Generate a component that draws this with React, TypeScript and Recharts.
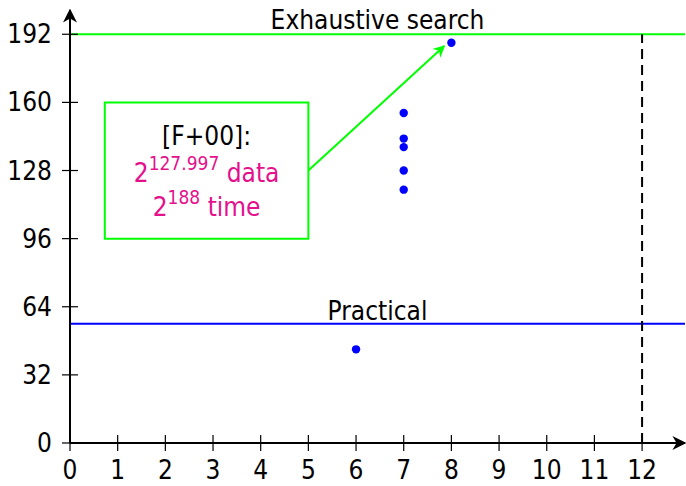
import React from "react";
import {
  ScatterChart,
  Scatter,
  XAxis,
  YAxis,
  ReferenceLine,
  ReferenceArea,
} from "recharts";

const xTicks = [0, 1, 2, 3, 4, 5, 6, 7, 8, 9, 10, 11, 12];
const yTicks = [0, 32, 64, 96, 128, 160, 192];

const attackRounds = [6, 7, 7, 7, 7, 7, 8];
const attackLog2 = [44, 119, 128, 139, 143, 155, 188];

const exhaustiveLevel = 192;
const practicalLevel = 56;
const fullRounds = 12;

// annotation box (data units) and its arrow to the [F+00] attack
const noteBox = { x1: 0.73, x2: 5, y1: 96, y2: 160 };
const noteArrow = { from: [5, 128], to: [7.85, 186.5] };

const points = attackRounds.map((r, i) => ({ rounds: r, log2: attackLog2[i] }));

const FONT = '"Liberation Sans Narrow", "DejaVu Sans Condensed", sans-serif';
const GREEN = "#00ff00";
const BLUE = "#0000ff";
const MAGENTA = "#e4108c";

const XTick = ({ x, y, payload }: any) => (
  <g>
    <line x1={x} x2={x} y1={y - 8} y2={y + 8} stroke="#000" strokeWidth={1.2} />
    <text x={x} y={y + 36} textAnchor="middle" fontSize={26} fontFamily={FONT} fill="#000">
      {payload.value}
    </text>
  </g>
);

const YTick = ({ x, y, payload }: any) => (
  <g>
    <line x1={x - 8} x2={x + 8} y1={y} y2={y} stroke="#000" strokeWidth={1.2} />
    <text x={x - 18} y={y + 9} textAnchor="end" fontSize={26} fontFamily={FONT} fill="#000">
      {payload.value}
    </text>
  </g>
);

const NoteLabel = ({ viewBox }: any) => {
  const cx = viewBox.x + viewBox.width / 2;
  const top = viewBox.y;
  return (
    <g fontFamily={FONT} textAnchor="middle">
      <text x={cx} y={top + 43} fontSize={26} fill="#000">[F+00]:</text>
      <text x={cx} y={top + 80} fontSize={26} fill={MAGENTA}>
        2<tspan dy={-12} fontSize={19}>127.997</tspan>
        <tspan dy={12}> data</tspan>
      </text>
      <text x={cx} y={top + 114} fontSize={26} fill={MAGENTA}>
        2<tspan dy={-12} fontSize={19}>188</tspan>
        <tspan dy={12}> time</tspan>
      </text>
    </g>
  );
};

const Dot = ({ cx, cy }: any) => <circle cx={cx} cy={cy} r={4.2} fill={BLUE} />;

export default function App() {
  return (
    <div style={{ position: "absolute", left: 0, top: 0, width: 686, height: 486, background: "#fff" }}>
      <svg width={0} height={0} style={{ position: "absolute" }}>
        <defs>
          <marker id="axisArrow" viewBox="0 0 10 10" refX={9} refY={5} markerWidth={7} markerHeight={7}
            markerUnits="strokeWidth" orient="auto-start-reverse">
            <path d="M0,0 L10,5 L0,10 L3,5 Z" fill="#000" />
          </marker>
          <marker id="noteArrow" viewBox="0 0 10 10" refX={9} refY={5} markerWidth={6} markerHeight={6}
            markerUnits="strokeWidth" orient="auto">
            <path d="M0,0 L10,5 L0,10 L3,5 Z" fill={GREEN} />
          </marker>
        </defs>
      </svg>
      <ScatterChart width={686} height={486} margin={{ top: 10, right: 1, bottom: 0, left: 0 }}>
        <XAxis
          type="number"
          dataKey="rounds"
          domain={[0, 12.9]}
          ticks={xTicks}
          allowDataOverflow
          height={43}
          tickSize={0}
          tickMargin={0}
          tickLine={false}
          axisLine={{ stroke: "#000", strokeWidth: 2, markerEnd: "url(#axisArrow)" }}
          tick={<XTick />}
          interval={0}
        />
        <YAxis
          type="number"
          dataKey="log2"
          domain={[0, 203.4]}
          ticks={yTicks}
          allowDataOverflow
          width={70}
          tickSize={0}
          tickMargin={0}
          tickLine={false}
          axisLine={{ stroke: "#000", strokeWidth: 2, markerStart: "url(#axisArrow)" }}
          tick={<YTick />}
          interval={0}
        />
        <ReferenceLine
          y={exhaustiveLevel}
          stroke={GREEN}
          strokeWidth={2}
          label={{ value: "Exhaustive search", position: "top", fill: "#000", fontSize: 26, fontFamily: FONT, offset: 5 }}
        />
        <ReferenceLine
          y={practicalLevel}
          stroke={BLUE}
          strokeWidth={2}
          label={{ value: "Practical", position: "top", fill: "#000", fontSize: 26, fontFamily: FONT, offset: 4 }}
        />
        <ReferenceLine
          segment={[{ x: fullRounds, y: 0 }, { x: fullRounds, y: exhaustiveLevel }]}
          stroke="#000"
          strokeWidth={2}
          strokeDasharray="10 6"
        />
        <ReferenceArea
          x1={noteBox.x1}
          x2={noteBox.x2}
          y1={noteBox.y1}
          y2={noteBox.y2}
          fill="#fff"
          fillOpacity={1}
          stroke={GREEN}
          strokeWidth={2}
          label={<NoteLabel />}
        />
        <ReferenceLine
          segment={[
            { x: noteArrow.from[0], y: noteArrow.from[1] },
            { x: noteArrow.to[0], y: noteArrow.to[1] },
          ]}
          stroke={GREEN}
          strokeWidth={2}
          markerEnd="url(#noteArrow)"
        />
        <Scatter data={points} fill={BLUE} shape={<Dot />} isAnimationActive={false} />
      </ScatterChart>
    </div>
  );
}
